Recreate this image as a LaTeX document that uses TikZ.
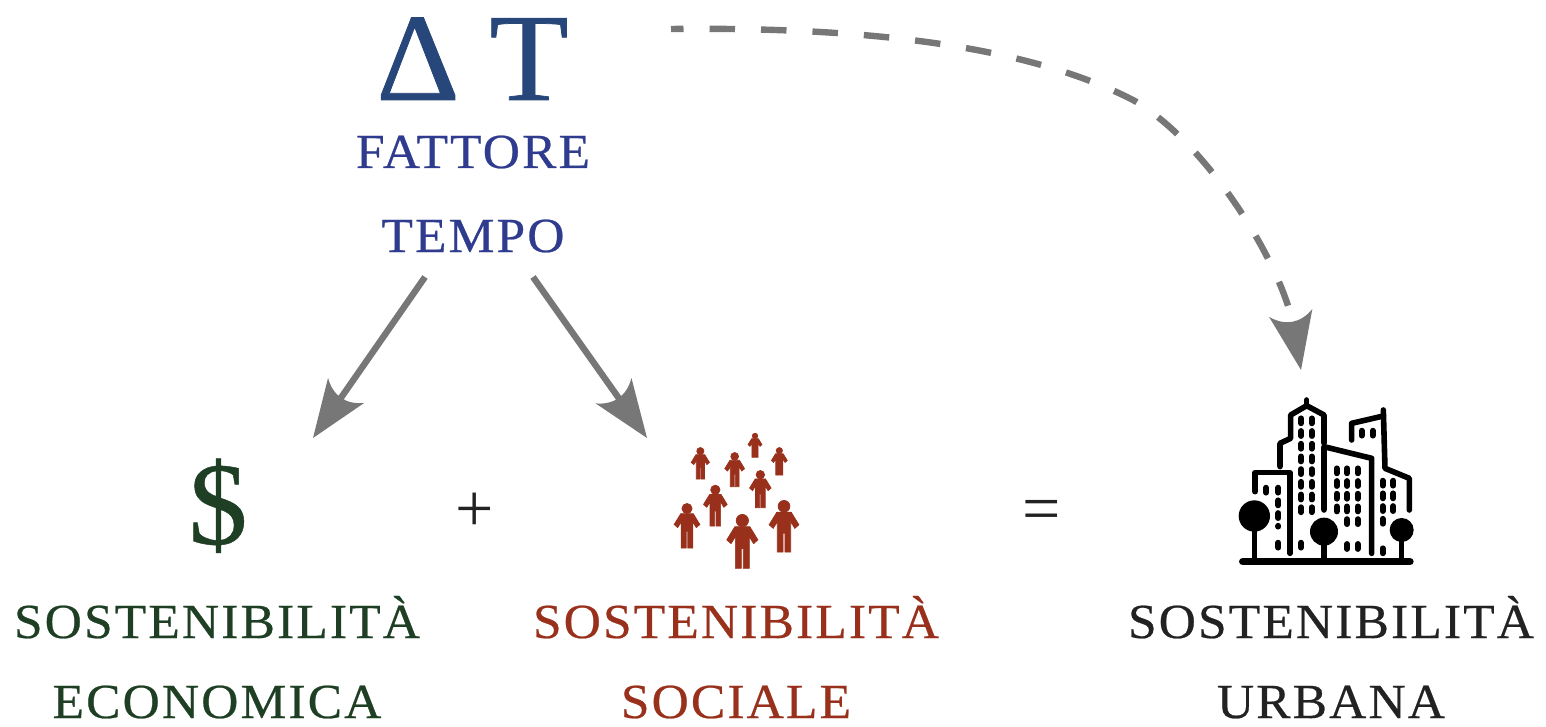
\documentclass[tikz,border=0pt]{standalone}
\usepackage{fontspec}
\setmainfont{Liberation Serif}
\newfontfamily\caplabel[LetterSpace=4.4,FakeStretch=1.05,FakeBold=0.5]{Liberation Serif}
\newfontfamily\bigglyph[FakeStretch=1.04,FakeBold=0.6]{Liberation Serif}
\newfontfamily\dollarglyph[FakeBold=0.4]{Liberation Serif}
\usetikzlibrary{arrows.meta}
\definecolor{arrowgrey}{HTML}{777777}
\definecolor{navyd}{HTML}{27467A}
\definecolor{bluet}{HTML}{2F3B8E}
\definecolor{greenec}{HTML}{1F3F25}
\definecolor{redso}{HTML}{99301C}
\definecolor{darkur}{HTML}{222222}
\pgfdeclarearrow{
  name=CurvedHead,
  setup code={\pgfarrowssettipend{0pt}\pgfarrowssetbackend{-58pt}\pgfarrowssetlineend{-46pt}\pgfarrowssetvisualbackend{-46pt}},
  drawing code={
    \pgfsetdash{}{0pt}
    \pgfpathmoveto{\pgfqpoint{0pt}{0pt}}
    \pgfpathlineto{\pgfqpoint{-58pt}{22pt}}
    \pgfpathcurveto{\pgfqpoint{-46pt}{8pt}}{\pgfqpoint{-46pt}{-8pt}}{\pgfqpoint{-58pt}{-22pt}}
    \pgfpathclose
    \pgfusepathqfill
  },
}
\tikzset{
  caption/.style={anchor=base,font=\caplabel\fontsize{49}{49}\selectfont,inner sep=0pt},
  bigsign/.style={anchor=base,inner sep=0pt,text=navyd,font=\bigglyph\fontsize{125}{125}\selectfont},
  mathsign/.style={anchor=base,inner sep=0pt,text=darkur,font=\fontsize{68}{68}\selectfont},
  connector/.style={draw=arrowgrey,line width=6.4pt,-{CurvedHead}},
  dashedconnector/.style={connector,line width=6.4pt,dash pattern=on 25.5pt off 26pt,dash phase=13pt},
  personfig/.pic={
    \filldraw[line width=.7pt] (0,.11) circle[radius=.115];
    \filldraw[line width=.7pt] (-.14,.225)--(.14,.225)--(.29,.47)--(.21,.54)--(.13,.41)--(.13,1)--(.018,1)--(.018,.63)--(-.018,.63)--(-.018,1)--(-.13,1)--(-.13,.41)--(-.21,.54)--(-.29,.47)--cycle;
  },
  bldline/.style={line width=5.6pt,line cap=round,line join=round},
  winline/.style={line width=5.8pt,line cap=round,dash pattern=on 5pt off 7.7pt},
}
\begin{document}
\begin{tikzpicture}[x=1pt,y=-1pt]
\useasboundingbox (0,0) rectangle (1546,727);
% Top
\node[bigsign] (delta) at (418,100) {\char"0394};
\node[bigsign] (tee) at (529,100) {T};
\node[caption,text=bluet] (fattore) at (473,168) {FATTORE};
\node[caption,text=bluet] (tempo) at (473,252) {TEMPO};
% Bottom labels
\node[anchor=base,inner sep=0pt,text=greenec,font=\dollarglyph\fontsize{118}{118}\selectfont] (dollar) at (218,544) {\$};
\node[caption,text=greenec] (se1) at (217,638) {SOSTENIBILITÀ};
\node[caption,text=greenec] (se2) at (217,718) {ECONOMICA};
\node[caption,text=redso] (ss1) at (736,638) {SOSTENIBILITÀ};
\node[caption,text=redso] (ss2) at (736,718) {SOCIALE};
\node[caption,text=darkur] (su1) at (1331,638) {SOSTENIBILITÀ};
\node[caption,text=darkur] (su2) at (1331,718) {URBANA};
\node[mathsign] (plus) at (475,531) {+};
\node[mathsign] (equals) at (1042,531) {=};
% Connector ends
\coordinate (a1s) at (425,277);
\coordinate (a1e) at (313,438);
\coordinate (a2s) at (533,277);
\coordinate (a2e) at (647,438);
\coordinate (a3s) at (671,29);
\coordinate (a3m) at (1133,100);
\coordinate (a3e) at (1301,370);
\draw[connector] (a1s) -- (a1e);
\draw[connector] (a2s) -- (a2e);
\draw[dashedconnector] (a3s) .. controls (850,27) and (1020,42) .. (a3m) .. controls (1208,143) and (1282,265) .. (a3e);
% People
\foreach \hx/\ty/\by in {285/40/112,358/83/165,121/83/177,224/98/200,301/152/263,166/196/318,81/251/384,372/242/396,247/284/445}{
  \pgfmathsetmacro{\hh}{(\by-\ty)/3}
  \pgfmathsetmacro{\px}{660+\hx/3}
  \pgfmathsetmacro{\py}{420+\ty/3}
  \pic[redso,fill=redso,scale=\hh] at (\px,\py) {personfig};
}
% City
\begin{scope}[shift={(1220,390)},scale=.3333]
\draw[line width=7.3pt,line cap=round] (68,515) -- (570,515);
\draw[bldline] (105,305) -- (105,248) -- (210,248) -- (210,490);
\draw[bldline] (180,230) -- (180,160) -- (212,145) -- (212,75) -- (260,47) -- (312,75) -- (312,160);
\draw[bldline] (260,30) -- (260,47);
\draw[bldline] (312,360) -- (312,170) -- (455,205) -- (455,490);
\draw[bldline] (395,150) -- (395,100) -- (490,78);
\draw[bldline] (490,60) -- (495,235) -- (568,265) -- (568,360);
\foreach \wx/\ya/\yb in {243/85/385,275/85/385,243/458/490,138/293/310,175/293/410,175/458/490,350/235/385,381/235/420,413/235/420,381/462/495,413/462/495,488/272/420,520/272/385,488/475/495,425/122/145,458/122/145}{
  \draw[winline] (\wx,\ya) -- (\wx,\yb);
}
\fill (103,378) circle[radius=47];
\fill (312,425) circle[radius=42];
\fill (545,420) circle[radius=36];
\draw[bldline] (103,400) -- (103,515);
\draw[bldline] (312,440) -- (312,515);
\draw[bldline] (545,440) -- (545,515);
\end{scope}
\end{tikzpicture}
\end{document}
